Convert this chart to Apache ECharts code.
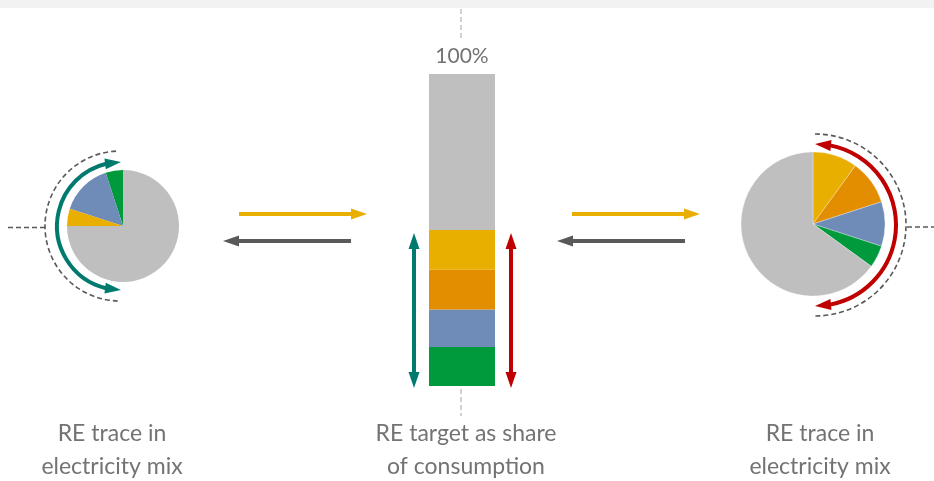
<!DOCTYPE html>
<html>
<head>
<meta charset="utf-8">
<title>RE trace vs RE target</title>
<script src="https://cdn.jsdelivr.net/npm/echarts@6/dist/echarts.min.js"></script>
<style>
  html, body { margin: 0; padding: 0; background: #fff; }
  #main { width: 934px; height: 481px; }
</style>
</head>
<body>
<div id="main"></div>
<script>
// data
var barCats = ['target'];
var segNames = ['Green', 'Blue', 'Orange', 'Yellow', 'Rest'];
var targetShares = [12.5, 12, 12.75, 12.75, 50];
var topLabel = '100%';

var leftNames = ['Green', 'Blue', 'Yellow', 'Rest'];
var leftMix = [5, 15, 5, 75];

var rightNames = ['Yellow', 'Orange', 'Blue', 'Green', 'Rest'];
var rightMix = [10, 10, 10, 5, 65];

var captions = ['RE trace in\nelectricity mix', 'RE target as share\nof consumption', 'RE trace in\nelectricity mix'];

// colours
var col = {
  Green: '#009a3d', Blue: '#6f8cb9', Orange: '#e38d00', Yellow: '#e8ae00', Rest: '#bfbfbf'
};
var teal = '#007a6e', red = '#c00000', dark = '#595959', light = '#c4c4c4';

var chart = echarts.init(document.getElementById('main'));

// arrow head helper (triangle), tip at (x,y), direction angle ang (radians)
function head(x, y, ang, len, w, color) {
  var bx = x - Math.cos(ang) * len, by = y - Math.sin(ang) * len;
  var px = -Math.sin(ang) * w / 2, py = Math.cos(ang) * w / 2;
  return { type: 'polygon', shape: { points: [[x, y], [bx + px, by + py], [bx - px, by - py]] }, style: { fill: color }, silent: true };
}
function straightArrow(x1, y1, x2, y2, color, both) {
  var ang = Math.atan2(y2 - y1, x2 - x1), len = 15;
  var sx = x1 + (both ? Math.cos(ang) * len : 0), sy = y1 + (both ? Math.sin(ang) * len : 0);
  var ex = x2 - Math.cos(ang) * len, ey = y2 - Math.sin(ang) * len;
  var els = [
    { type: 'line', shape: { x1: sx, y1: sy, x2: ex, y2: ey }, style: { stroke: color, lineWidth: 4 }, silent: true },
    head(x2, y2, ang, len + 1, 11, color)
  ];
  if (both) els.push(head(x1, y1, ang + Math.PI, len + 1, 11, color));
  return els;
}
// arc arrow with heads on both ends; angles in screen radians, clockwise from a0 to a1
function arcArrow(cx, cy, r, a0, a1, color) {
  var hl = 15, da = hl / r;
  var els = [{ type: 'arc', shape: { cx: cx, cy: cy, r: r, startAngle: a0 + da, endAngle: a1 - da, clockwise: true },
    style: { stroke: color, lineWidth: 4, fill: null }, silent: true }];
  var t0x = cx + r * Math.cos(a0), t0y = cy + r * Math.sin(a0);
  var b0 = a0 + da;
  var d0 = Math.atan2(t0y - (cy + r * Math.sin(b0)), t0x - (cx + r * Math.cos(b0)));
  els.push(head(t0x, t0y, d0, hl + 1, 11, color));
  var t1x = cx + r * Math.cos(a1), t1y = cy + r * Math.sin(a1);
  var b1 = a1 - da;
  var d1 = Math.atan2(t1y - (cy + r * Math.sin(b1)), t1x - (cx + r * Math.cos(b1)));
  els.push(head(t1x, t1y, d1, hl + 1, 11, color));
  return els;
}
function dashed(x1, y1, x2, y2, color) {
  return { type: 'line', shape: { x1: x1, y1: y1, x2: x2, y2: y2 }, style: { stroke: color, lineWidth: 1.6, lineDash: [5, 3] }, silent: true };
}
function dashedArc(cx, cy, r, a0, a1) {
  return { type: 'arc', shape: { cx: cx, cy: cy, r: r, startAngle: a0, endAngle: a1, clockwise: true },
    style: { stroke: dark, lineWidth: 1.6, lineDash: [5, 3], fill: null }, silent: true };
}
function caption(x, y, txt) {
  return { type: 'text', x: x, y: y, silent: true,
    style: { text: txt, fill: '#737373', font: '400 23px Lato', lineHeight: 33, textAlign: 'center', textVerticalAlign: 'top' } };
}

var P = Math.PI;
var graphics = [
  { type: 'rect', shape: { x: 0, y: 0, width: 934, height: 8 }, style: { fill: '#f2f2f2' }, silent: true },
  dashed(461, 9, 461, 40, light),
  dashed(461, 389, 461, 416, light),
  dashed(8, 227.5, 45, 227.5, dark),
  dashed(907, 227, 934, 227, dark),
  dashedArc(120, 226, 75, P / 2 + 0.03, 3 * P / 2 - 0.03),
  dashedArc(815, 225, 91, -P / 2, P / 2),
  caption(112, 417, captions[0]),
  caption(466, 417, captions[1]),
  caption(820, 417, captions[2])
];
graphics = graphics
  .concat(arcArrow(121, 226, 64, P / 2, 3 * P / 2, teal))
  .concat(arcArrow(815, 225, 81, -P / 2, P / 2, red))
  .concat(straightArrow(239, 214, 367, 214, col.Yellow, false))
  .concat(straightArrow(351, 241, 223, 241, dark, false))
  .concat(straightArrow(572, 214, 700, 214, col.Yellow, false))
  .concat(straightArrow(685, 241, 557, 241, dark, false))
  .concat(straightArrow(414, 233, 414, 388, teal, true))
  .concat(straightArrow(511, 233, 511, 388, red, true));

var barSeries = segNames.map(function (n, i) {
  return {
    name: n, type: 'bar', stack: 'target', barWidth: '100%',
    data: [targetShares[i]],
    itemStyle: { color: col[n] },
    label: i === segNames.length - 1 ? {
      show: true, position: 'top', distance: 7, formatter: topLabel,
      color: '#737373', fontFamily: 'Lato', fontWeight: 400, fontSize: 21
    } : { show: false }
  };
});

chart.setOption({
  animation: false,
  grid: { left: 429, top: 74, width: 66, height: 312 },
  xAxis: { type: 'category', data: barCats, show: false },
  yAxis: { type: 'value', min: 0, max: 100, show: false },
  series: barSeries.concat([
    {
      type: 'pie', center: [123, 226], radius: 56, startAngle: 90, clockwise: false,
      label: { show: false }, labelLine: { show: false }, silent: true,
      data: leftNames.map(function (n, i) { return { name: n, value: leftMix[i], itemStyle: { color: col[n] } }; })
    },
    {
      type: 'pie', center: [813, 224], radius: 72, startAngle: 90, clockwise: true,
      label: { show: false }, labelLine: { show: false }, silent: true,
      itemStyle: { borderColor: '#fff', borderWidth: 0.3 },
      data: rightNames.map(function (n, i) { return { name: n, value: rightMix[i], itemStyle: { color: col[n] } }; })
    }
  ]),
  graphic: graphics
});
</script>
</body>
</html>
